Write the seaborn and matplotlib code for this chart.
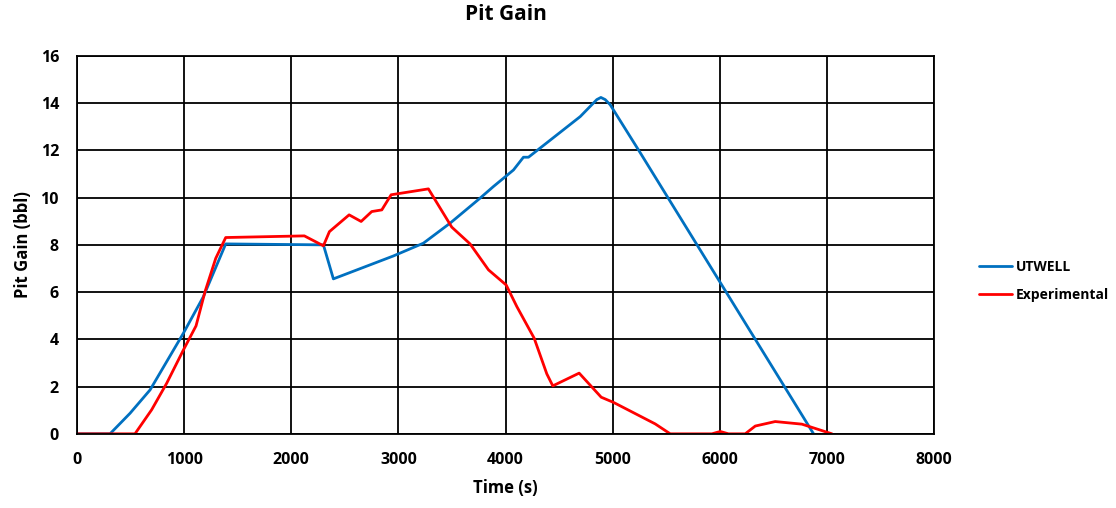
import matplotlib
matplotlib.use("Agg")
import matplotlib.pyplot as plt
import seaborn as sns
import pandas as pd

# UTWELL simulation (time in s, pit gain in bbl)
utwell_t = [0, 308, 495, 682, 993, 1180, 1388, 2300, 2393, 2953, 3233, 3483, 3763,
            3887, 4074, 4167, 4214, 4697, 4852, 4890, 4930, 4977, 5257, 6875]
utwell_v = [0, 0, 0.87, 1.86, 4.26, 5.81, 8.04, 8.0, 6.56, 7.53, 8.07, 8.92, 9.98,
            10.47, 11.17, 11.71, 11.71, 13.43, 14.15, 14.24, 14.15, 13.93, 11.9, 0]

# Experimental data
exp_t = [0, 541, 697, 837, 993, 1111, 1195, 1295, 1388, 2122, 2300, 2356, 2540, 2652,
         2751, 2845, 2932, 3280, 3498, 3669, 3841, 4006, 4105, 4267, 4385, 4441,
         4687, 4893, 5008, 5397, 5537, 5926, 6004, 6081, 6237, 6331, 6517, 6766, 7047]
exp_v = [0, 0, 1.02, 2.14, 3.55, 4.57, 6.02, 7.43, 8.31, 8.38, 7.96, 8.56, 9.27, 8.99,
         9.41, 9.48, 10.12, 10.37, 8.75, 8.04, 6.94, 6.3, 5.39, 4.05, 2.54, 2.03,
         2.57, 1.55, 1.33, 0.42, 0, 0, 0.1, 0, 0, 0.33, 0.52, 0.41, 0]

df = pd.concat([
    pd.DataFrame({"Time": utwell_t, "Gain": utwell_v, "Series": "UTWELL"}),
    pd.DataFrame({"Time": exp_t, "Gain": exp_v, "Series": "Experimental"}),
])

sns.set_style("white")
plt.rcParams["font.family"] = ["Open Sans", "DejaVu Sans"]
plt.rcParams["font.weight"] = "bold"
plt.rcParams["text.color"] = "black"
plt.rcParams["axes.labelcolor"] = "black"
plt.rcParams["xtick.color"] = "black"
plt.rcParams["ytick.color"] = "black"

fig, ax = plt.subplots(figsize=(11.16, 5.08), dpi=100)
fig.subplots_adjust(left=0.069, right=0.837, bottom=0.146, top=0.890)

sns.lineplot(data=df, x="Time", y="Gain", hue="Series", sort=False,
             palette={"UTWELL": "#0070C0", "Experimental": "#FF0000"},
             linewidth=2.0, ax=ax, legend=False)

ax.set_xlim(0, 8000)
ax.set_ylim(0, 16)
ax.set_xticks(range(0, 8001, 1000))
ax.set_yticks(range(0, 17, 2))
ax.grid(True, color="black", linewidth=1.3)
ax.set_axisbelow(True)
for s in ax.spines.values():
    s.set_color("black")
    s.set_linewidth(1.3)
ax.tick_params(length=0, labelsize=11.5, pad=13)
for lbl in ax.get_xticklabels() + ax.get_yticklabels():
    lbl.set_fontweight("bold")

ax.set_title("Pit Gain", fontsize=15, fontweight="bold", pad=26)
ax.set_xlabel("Time (s)", fontsize=12, fontweight="bold", labelpad=8)
ax.set_ylabel("Pit Gain (bbl)", fontsize=12, fontweight="bold", labelpad=6)

handles = ax.get_lines()[:2]
fig.legend(handles, ["UTWELL", "Experimental"], loc="center left",
           bbox_to_anchor=(0.877, 0.447), frameon=False,
           handlelength=2.4, handletextpad=0.3, labelspacing=1.0,
           borderpad=0, borderaxespad=0,
           prop={"weight": "bold", "size": 10})

fig.savefig("out.png", dpi=100)
